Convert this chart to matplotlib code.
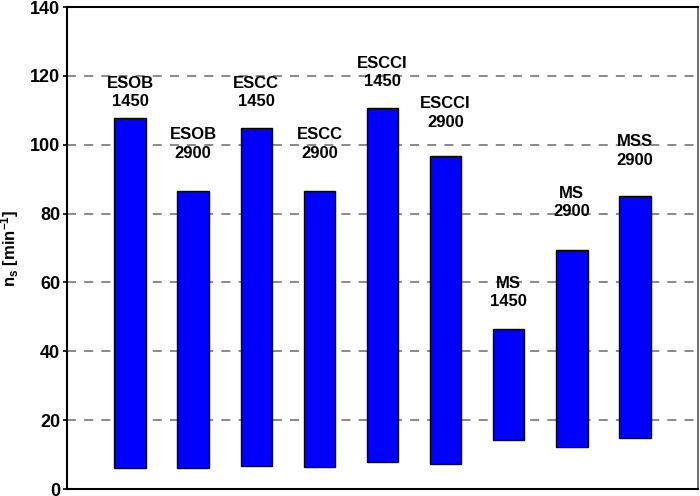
import numpy as np
import matplotlib
matplotlib.use("Agg")
import matplotlib.pyplot as plt

plt.rcParams["font.family"] = ["Liberation Sans", "DejaVu Sans"]
plt.rcParams["mathtext.fontset"] = "custom"
plt.rcParams["mathtext.rm"] = "Liberation Sans:bold"
plt.rcParams["mathtext.it"] = "Liberation Sans:bold"
plt.rcParams["mathtext.bf"] = "Liberation Sans:bold"

# Speed ranges per machine type / nominal speed
types = ["ESOB", "ESOB", "ESCC", "ESCC", "ESCCI", "ESCCI", "MS", "MS", "MSS"]
speeds = ["1450", "2900", "1450", "2900", "1450", "2900", "1450", "2900", "2900"]
ns_min = [6.1, 6.1, 6.7, 6.3, 7.9, 7.3, 14.1, 12.3, 14.9]
ns_max = [107.7, 86.7, 105.0, 86.7, 110.7, 96.7, 46.5, 69.5, 85.0]
label_y = [115.2, 100.2, 115.2, 100.2, 121.0, 109.2, 57.1, 83.2, 98.2]

x = np.arange(1, len(types) + 1)
low = np.array(ns_min)
high = np.array(ns_max)

fig = plt.figure(figsize=(7, 4.96), dpi=100)
ax = fig.add_axes([67 / 700, 7 / 496, 631 / 700, 482 / 496])

ax.bar(x, high - low, bottom=low, width=0.5, color="#0000FF",
       edgecolor="black", linewidth=1.0, zorder=3)

for xi, ly, t, s in zip(x, label_y, types, speeds):
    ax.text(xi, ly, f"{t}\n{s}", ha="center", va="center",
            fontsize=12, fontweight="bold", linespacing=1.3, zorder=4)

ax.set_xlim(0, 10)
ax.set_ylim(0, 140)
ax.set_yticks(np.arange(0, 141, 20))
ax.set_xticks([])
ax.yaxis.grid(True, linestyle=(0, (5, 4.5)), color="#808080", linewidth=1.3)
ax.set_axisbelow(True)

ax.tick_params(axis="y", direction="out", length=3, width=1.2,
               labelsize=13, pad=2)
for lab in ax.get_yticklabels():
    lab.set_fontweight("bold")

ax.set_ylabel("n$_s$ [min$^{-1}$]", fontsize=12, fontweight="bold", labelpad=6)

for side in ["left", "bottom", "top"]:
    ax.spines[side].set_linewidth(1.5)
    ax.spines[side].set_color("black")
ax.spines["right"].set_linewidth(1.2)
ax.spines["right"].set_color("#555555")

fig.savefig("out.png", dpi=100)
plt.close(fig)
